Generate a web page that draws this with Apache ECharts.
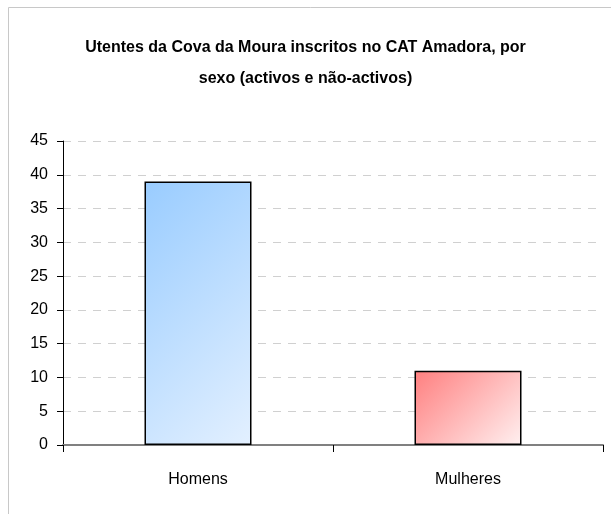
<!DOCTYPE html>
<html>
<head>
<meta charset="utf-8">
<script src="https://cdn.jsdelivr.net/npm/echarts@6/dist/echarts.min.js"></script>
<style>
  html, body { margin: 0; padding: 0; background: #fff; }
  #main { width: 611px; height: 514px; }
</style>
</head>
<body>
<div id="main"></div>
<script>
const categories = ["Homens", "Mulheres"];
const values = [39, 11];
const titleText = "Utentes da Cova da Moura inscritos no CAT Amadora, por\nsexo (activos e não-activos)";

const chart = echarts.init(document.getElementById("main"));

const yMax = 45;
const plotHeight = 304; // approx pixel height of the value axis
const barW = 107;

// 45 degree gradient (in pixels) across each bar, top-left -> bottom-right
function diagFill(value, c0, c1) {
  const h = value / yMax * plotHeight;
  const d = (barW + h) / 2;
  return new echarts.graphic.LinearGradient(0, 0, d / barW, d / h, [
    { offset: 0, color: c0 },
    { offset: 1, color: c1 },
  ]);
}

const colorPairs = [
  ["#99CCFF", "#E3F0FF"],
  ["#FF7F7F", "#FFF0F0"],
];

const option = {
  animation: false,
  backgroundColor: "#fff",
  title: {
    text: titleText,
    left: "center",
    top: 27,
    textStyle: {
      fontFamily: "Liberation Sans",
      fontSize: 16,
      fontWeight: "bold",
      color: "#000",
      lineHeight: 31,
    },
  },
  graphic: [
    {
      type: "rect",
      shape: { x: 8.5, y: 7.5, width: 700, height: 600 },
      style: { fill: "none", stroke: "#c8c8c8", lineWidth: 1 },
      silent: true,
    },
  ],
  grid: { left: 63, right: 8, top: 141, bottom: 69 },
  xAxis: {
    type: "category",
    data: categories,
    boundaryGap: true,
    axisLine: { lineStyle: { color: "#808080", width: 2 } },
    axisTick: { show: true, length: 7, lineStyle: { color: "#000" } },
    axisLabel: {
      margin: 27,
      fontFamily: "Liberation Sans",
      fontSize: 16,
      color: "#000",
    },
  },
  yAxis: {
    type: "value",
    min: 0,
    max: yMax,
    interval: 5,
    axisLine: { show: true, lineStyle: { color: "#000" } },
    axisTick: { show: true, length: 6, lineStyle: { color: "#000" } },
    axisLabel: {
      margin: 15,
      fontFamily: "Liberation Sans",
      fontSize: 16,
      color: "#000",
    },
    splitLine: {
      show: true,
      lineStyle: { color: "#d0d0d0", type: [8, 7] },
    },
  },
  series: [
    {
      type: "bar",
      barWidth: barW,
      data: values.map((v, i) => ({
        value: v,
        itemStyle: {
          color: diagFill(v, colorPairs[i][0], colorPairs[i][1]),
          borderColor: "#000",
          borderWidth: 1.5,
        },
      })),
    },
  ],
};

chart.setOption(option);
</script>
</body>
</html>
